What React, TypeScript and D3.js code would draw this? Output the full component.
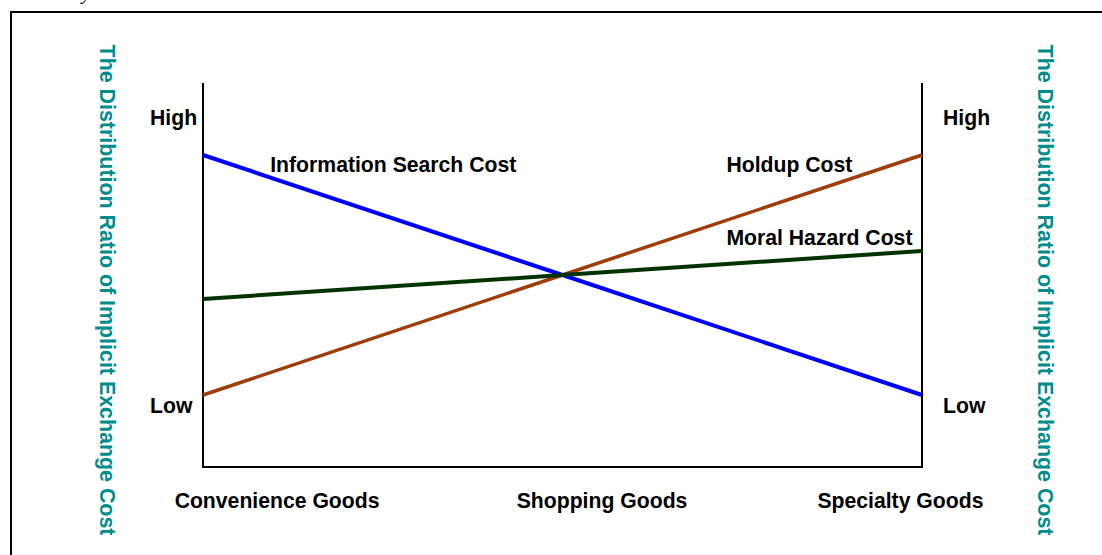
import React from "react";
import * as d3 from "d3";

const categories = ["Convenience Goods", "Shopping Goods", "Specialty Goods"];
const levelTicks = ["High", "Low"];
const levelValues = [9.1, 1.6];
const yAxisTitle = "The Distribution Ratio of Implicit Exchange Cost";

const infoSearch = [8.125, 5, 1.875];
const holdup = [1.875, 5, 8.125];
const moralHazard = [4.375, 5, 5.625];

const seriesNames = ["Information Search Cost", "Holdup Cost", "Moral Hazard Cost"];
const seriesList = [infoSearch, holdup, moralHazard];

// layout (not data)
const colors = ["#0000ff", "#a03c08", "#003300"];
const widths = [4, 3.5, 4];
const labelAnchor = [
  { x: 0.187, y: 7.68 },
  { x: 1.456, y: 7.68 },
  { x: 1.456, y: 5.78 },
];
const catLabelX = [0.206, 1.11, 1.94];

const W = 1102;
const H = 555;
const font = "'Liberation Sans', Arial, sans-serif";
const fs = 21.2;

export default function App() {
  const x = d3.scaleLinear().domain([0, 2]).range([203, 922]);
  const y = d3.scaleLinear().domain([0, 10]).range([467, 83]);
  const line = d3
    .line<number>()
    .x((_, i) => x(i))
    .y((d) => y(d));

  return (
    <svg
      width={W}
      height={H}
      style={{ position: "absolute", left: 0, top: 0, background: "#fff" }}
    >
      <rect x={0} y={0} width={W} height={H} fill="#fff" />
      <text x={82} y={-1} fontFamily="'Liberation Serif', serif" fontStyle="italic" fontSize={20}>
        y
      </text>
      <rect x={11} y={12} width={W + 20} height={H + 20} fill="none" stroke="#000" strokeWidth={2} />

      {/* axes */}
      <line x1={x(0)} x2={x(0)} y1={y(10)} y2={y(0)} stroke="#000" strokeWidth={2} />
      <line x1={x(2)} x2={x(2)} y1={y(10)} y2={y(0)} stroke="#000" strokeWidth={2} />
      <line x1={x(0) - 1} x2={x(2) + 1} y1={y(0)} y2={y(0)} stroke="#000" strokeWidth={2} />

      {seriesList.map((s, i) => (
        <path key={i} d={line(s) || ""} fill="none" stroke={colors[i]} strokeWidth={widths[i]} />
      ))}

      {levelTicks.map((t, i) => (
        <g key={t} fontFamily={font} fontWeight="bold" fontSize={fs} fill="#000">
          <text x={150} y={y(levelValues[i]) + 7}>
            {t}
          </text>
          <text x={943} y={y(levelValues[i]) + 7}>
            {t}
          </text>
        </g>
      ))}

      {categories.map((c, i) => (
        <text
          key={c}
          x={x(catLabelX[i])}
          y={508}
          textAnchor="middle"
          fontFamily={font}
          fontWeight="bold"
          fontSize={fs}
        >
          {c}
        </text>
      ))}

      {seriesNames.map((n, i) => (
        <text
          key={n}
          x={x(labelAnchor[i].x)}
          y={y(labelAnchor[i].y)}
          fontFamily={font}
          fontWeight="bold"
          fontSize={fs}
        >
          {n}
        </text>
      ))}

      {[100, 1038].map((tx) => (
        <text
          key={tx}
          transform={`translate(${tx},${290}) rotate(90)`}
          textAnchor="middle"
          fontFamily={font}
          fontWeight="bold"
          fontSize={21.4}
          fill="#008c8c"
        >
          {yAxisTitle}
        </text>
      ))}
    </svg>
  );
}
